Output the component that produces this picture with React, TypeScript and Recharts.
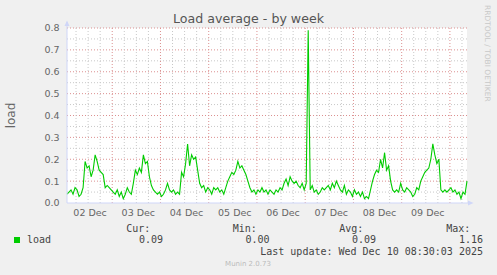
import { LineChart, Line, XAxis, YAxis, CartesianGrid } from 'recharts'

// hours since 02 Dec 00:00, one sample per hour from 01:30 on 02 Dec to 08:30 on 10 Dec
const START_HOUR = 1.5
const STEP_HOURS = 1
const END_HOUR = 200.5

const load = [
  0.04, 0.05, 0.06, 0.04, 0.07, 0.06, 0.03, 0.04, 0.07, 0.19,
  0.16, 0.17, 0.12, 0.15, 0.22, 0.19, 0.15, 0.14, 0.13, 0.07,
  0.08, 0.07, 0.06, 0.05, 0.04, 0.06, 0.03, 0.05, 0.02, 0.04,
  0.07, 0.05, 0.04, 0.09, 0.15, 0.13, 0.16, 0.14, 0.22, 0.18,
  0.19, 0.12, 0.08, 0.06, 0.05, 0.04, 0.05, 0.03, 0.04, 0.06,
  0.09, 0.06, 0.05, 0.06, 0.04, 0.05, 0.04, 0.14, 0.12, 0.18,
  0.27, 0.17, 0.22, 0.2, 0.21, 0.15, 0.09, 0.07, 0.08, 0.05,
  0.07, 0.06, 0.04, 0.07, 0.06, 0.07, 0.05, 0.06, 0.04, 0.07,
  0.1, 0.12, 0.14, 0.13, 0.15, 0.19, 0.16, 0.17, 0.15, 0.13,
  0.1, 0.07, 0.05, 0.06, 0.04, 0.06, 0.05, 0.07, 0.05, 0.06,
  0.04, 0.06, 0.05, 0.04, 0.06, 0.05, 0.07, 0.06, 0.09, 0.11,
  0.08, 0.12, 0.1, 0.09, 0.1, 0.08, 0.07, 0.09, 0.06, 0.09,
  0.79, 0.06, 0.08, 0.05, 0.06, 0.04, 0.05, 0.07, 0.06, 0.07,
  0.08, 0.06, 0.09, 0.07, 0.1, 0.08, 0.06, 0.05, 0.08, 0.04,
  0.06, 0.05, 0.03, 0.06, 0.04, 0.05, 0.03, 0.05, 0.02, 0.03,
  0.02, 0.06, 0.1, 0.13, 0.15, 0.14, 0.2, 0.16, 0.23, 0.15,
  0.17, 0.1, 0.06, 0.05, 0.06, 0.05, 0.09, 0.06, 0.05, 0.07,
  0.06, 0.05, 0.03, 0.04, 0.07, 0.06, 0.1, 0.12, 0.14, 0.15,
  0.16, 0.2, 0.27, 0.22, 0.18, 0.2, 0.06, 0.05, 0.06, 0.05,
  0.06, 0.07, 0.05, 0.06, 0.04, 0.05, 0.02, 0.05, 0.04, 0.1,
]

const dayLabels = ['02 Dec', '03 Dec', '04 Dec', '05 Dec', '06 Dec', '07 Dec', '08 Dec', '09 Dec']
const labelHours = [12, 36, 60, 84, 108, 132, 156, 180]
const yTicks = [0, 0.1, 0.2, 0.3, 0.4, 0.5, 0.6, 0.7, 0.8]
const yMinor = [0.05, 0.15, 0.25, 0.35, 0.45, 0.55, 0.65, 0.75]

const statNames = ['Cur:', 'Min:', 'Avg:', 'Max:']
const statValues = ['0.09', '0.00', '0.09', '1.16']

const data = load.map((v, i) => ({ t: START_HOUR + i * STEP_HOURS, load: v }))

const minorHours: number[] = []
const majorHours: number[] = []
for (let h = 6; h < END_HOUR; h += 6) {
  if (h % 24 === 0) majorHours.push(h)
  else minorHours.push(h)
}

// plot box (matches chart margins below)
const PLOT_L = 67
const PLOT_T = 28
const PLOT_W = 400
const PLOT_H = 175
const Y_MAX = 0.8
const gridY = (v: number) => PLOT_T + ((Y_MAX - v) / Y_MAX) * PLOT_H

const AXIS = '#CFD6F8'
const MINOR = '#c8c8c8'
const MAJOR = '#dc9090'
const FONT = '#666666'
const SANS = '"DejaVu Sans", sans-serif'
const MONO = '"DejaVu Sans Mono", monospace'

const XTick = (p: any) => (
  <text x={p.x + 2} y={p.y + 13} textAnchor="middle" fontSize={9.5} fontFamily={SANS} fill={FONT}>
    {dayLabels[labelHours.indexOf(p.payload.value)]}
  </text>
)

const YTick = (p: any) => (
  <text x={p.x - 7.5} y={p.y + 3.4} textAnchor="end" fontSize={9.5} fontFamily={SANS} fill={FONT}>
    {p.payload.value.toFixed(1)}
  </text>
)

export default function App() {
  const colEnds = [163, 269.5, 376, 483]
  return (
    <div style={{ position: 'absolute', left: 0, top: 0, width: 497, height: 275, background: '#f0f0f0' }}>
      <svg width={497} height={275} style={{ position: 'absolute', left: 0, top: 0 }}>
        <rect x={PLOT_L} y={PLOT_T} width={PLOT_W} height={PLOT_H} fill="#ffffff" />
        {yMinor.map((v) => (
          <line key={'hm' + v} x1={PLOT_L} x2={PLOT_L + PLOT_W} y1={gridY(v)} y2={gridY(v)} stroke={MINOR} strokeDasharray="1 2" />
        ))}
        {yTicks.slice(1).map((v) => (
          <line key={'hM' + v} x1={PLOT_L} x2={PLOT_L + PLOT_W} y1={gridY(v)} y2={gridY(v)} stroke={MAJOR} strokeDasharray="1 2" />
        ))}
      </svg>
      <LineChart width={497} height={275} data={data} margin={{ top: PLOT_T, right: 497 - PLOT_L - PLOT_W, left: 0, bottom: 0 }}>
        <XAxis
          dataKey="t"
          type="number"
          domain={[START_HOUR, END_HOUR]}
          ticks={labelHours}
          interval={0}
          tick={<XTick />}
          tickLine={false}
          tickSize={0}
          tickMargin={0}
          height={275 - PLOT_T - PLOT_H}
          axisLine={{ stroke: AXIS }}
        />
        <YAxis
          type="number"
          domain={[0, Y_MAX]}
          ticks={yTicks}
          interval={0}
          tick={<YTick />}
          tickLine={false}
          tickSize={0}
          tickMargin={0}
          width={PLOT_L}
          axisLine={{ stroke: AXIS }}
        />
        <CartesianGrid stroke={MINOR} strokeDasharray="1 2" horizontal={false} verticalValues={minorHours} />
        <CartesianGrid stroke={MAJOR} strokeDasharray="1 2" horizontal={false} verticalValues={majorHours} />
        <Line
          type="linear"
          dataKey="load"
          stroke="#00cc00"
          strokeWidth={1.1}
          dot={false}
          isAnimationActive={false}
        />
      </LineChart>
      <svg width={497} height={275} style={{ position: 'absolute', left: 0, top: 0, pointerEvents: 'none' }}>
        <line x1={67} y1={28} x2={67} y2={22} stroke={AXIS} />
        <polygon points="64.5,26 69.5,26 67,20.5" fill={AXIS} />
        <line x1={467} y1={203} x2={470} y2={203} stroke={AXIS} />
        <polygon points="468,200.5 468,205.5 473.5,203" fill={AXIS} />
        <text x={248.5} y={23} textAnchor="middle" fontSize={12.6} fontFamily={SANS} fill="#555">
          Load average - by week
        </text>
        <text transform="translate(15,115.5) rotate(-90)" textAnchor="middle" fontSize={12} fontFamily={SANS} fill={FONT}>
          load
        </text>
        <text transform="translate(485,53.3) rotate(90)" textAnchor="middle" fontSize={7.5} fontFamily={SANS} fill="#c8c8c8">
          RRDTOOL / TOBI OETIKER
        </text>
        <rect x={14} y={237} width={6} height={6} fill="#00cc00" />
        <text x={27} y={242.7} fontSize={10} fontFamily={MONO} fill="#444">load</text>
        {statNames.map((n, i) => (
          <text key={n} x={colEnds[i] - 12.7} y={231.5} textAnchor="end" fontSize={10} fontFamily={MONO} fill="#444">
            {n}
          </text>
        ))}
        {statValues.map((v, i) => (
          <text key={'v' + i} x={colEnds[i]} y={242.7} textAnchor="end" fontSize={10} fontFamily={MONO} fill="#444">
            {v}
          </text>
        ))}
        <text x={483} y={255} textAnchor="end" fontSize={10} fontFamily={MONO} fill="#444">
          Last update: Wed Dec 10 08:30:03 2025
        </text>
        <text x={248} y={266} textAnchor="middle" fontSize={7} fontFamily={SANS} fill="#bbbbbb">
          Munin 2.0.73
        </text>
      </svg>
    </div>
  )
}
